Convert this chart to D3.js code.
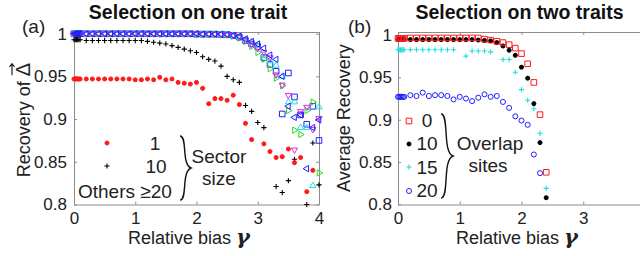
<!DOCTYPE html>
<html>
<head>
<meta charset="utf-8">
<script src="https://cdn.jsdelivr.net/npm/d3@7"></script>
<style>
  body { margin: 0; background: #fff; }
  svg { display: block; font-family: "Liberation Sans", Arial, sans-serif; }
</style>
</head>
<body>
<div id="chart"></div>
<script>
// relative bias: a dense cluster near 0, then steps of 0.1
const gammaA = [0, 0.02, 0.04, 0.06, 0.08, 0.1,
  0.2, 0.3, 0.4, 0.5, 0.6, 0.7, 0.8, 0.9, 1.0,
  1.1, 1.2, 1.3, 1.4, 1.5, 1.6, 1.7, 1.8, 1.9, 2.0,
  2.1, 2.2, 2.3, 2.4, 2.5, 2.6, 2.7, 2.8, 2.9, 3.0,
  3.1, 3.2, 3.3, 3.4, 3.5, 3.6, 3.7, 3.8, 3.9, 4.0]
const gammaB = gammaA.slice(0, 29)   // panel (b) stops at 2.4

// (a) selection on one trait, by sector size
const sector1 = [0.947, 0.947, 0.947, 0.947, 0.947, 0.947,
  0.947, 0.947, 0.947, 0.947, 0.947, 0.947, 0.947, 0.947, 0.946,
  0.946, 0.947, 0.946, 0.949, 0.946, 0.947, 0.943, 0.942, 0.941, 0.943,
  0.936, 0.918, 0.924, 0.924, 0.922, 0.928, 0.917, 0.895, 0.876, null,
  0.871, 0.862, 0.855, 0.856, 0.865, 0.849, 0.855, 0.815, 0.840, null]
const sector10 = [0.993, 0.993, 0.993, 0.993, 0.993, 0.993,
  0.992, 0.992, 0.992, 0.992, 0.992, 0.992, 0.992, 0.992, 0.992,
  0.992, 0.991, 0.990, 0.989, 0.988, 0.986, 0.984, 0.982, 0.980, 0.978,
  0.973, 0.970, 0.968, 0.962, 0.950, 0.946, 0.943, 0.916, 0.909, 0.896,
  0.890, null, 0.821, 0.814, 0.828, 0.853, null, 0.800, 0.872, 0.823]
const otherSquare = [1, 1, 1, 1, 1, 1,
  1, 1, 1, 1, 1, 1, 1, 1, 1,
  1, 1, 1, 1, 1, 1, 1, 1, 1, 0.9995,
  0.9995, 0.9995, 0.9995, 0.999, 0.999, 0.998, 0.996, 0.992, 0.988, 0.985,
  0.972, 0.964, 0.956, 0.906, 0.954, 0.926, 0.905, 0.894, 0.915, 0.875]
const otherLeft = [1, 1, 1, 1, 1, 1,
  1, 1, 1, 1, 1, 1, 1, 1, 1,
  1, 1, 1, 1, 1, 1, 1, 1, 1, 1,
  0.9995, 0.9995, 0.9995, 0.9995, 0.999, 0.998, 0.997, 0.994, 0.991, 0.988,
  0.983, 0.975, 0.970, 0.950, 0.915, 0.902, 0.905, 0.842, 0.890, 0.899]
const otherDown = [1, 1, 1, 1, 1, 1,
  1, 1, 1, 1, 1, 1, 1, 1, 1,
  1, 1, 1, 1, 1, 1, 1, 1, 1, 1,
  0.9995, 0.9995, 0.9995, 0.999, 0.999, 0.998, 0.996, 0.992, 0.988, 0.983,
  0.978, 0.972, 0.952, 0.940, 0.928, 0.864, 0.909, 0.914, 0.888, 0.901]
const otherRight = [1, 1, 1, 1, 1, 1,
  1, 1, 1, 1, 1, 1, 1, 1, 1,
  1, 1, 1, 1, 1, 1, 1, 1, 1, 0.9995,
  0.9995, 0.9995, 0.999, 0.999, 0.999, 0.997, 0.995, 0.991, 0.985, 0.978,
  0.970, 0.959, 0.948, 0.939, 0.910, 0.887, 0.882, 0.910, 0.920, 0.837]
const otherUp = [1, 1, 1, 1, 1, 1,
  1, 1, 1, 1, 1, 1, 1, 1, 1,
  1, 1, 1, 1, 1, 1, 1, 1, 1, 1,
  0.9995, 0.9995, 0.9995, 0.999, 0.999, 0.998, 0.996, 0.993, 0.990, 0.986,
  0.975, 0.968, 0.963, 0.950, 0.920, 0.920, 0.890, 0.890, 0.822, 0.914]

// (b) selection on two traits, by number of overlap sites
const overlap0 = [0.996, 0.996, 0.996, 0.996, 0.996, 0.996,
  0.9965, 0.9965, 0.9965, 0.9965, 0.9965, 0.9965, 0.9965, 0.9965, 0.9965,
  0.9965, 0.9965, 0.9965, 0.995, 0.994, 0.9925, 0.991, 0.9885, 0.9845, 0.978,
  0.966, 0.944, 0.906, 0.838]
const overlap10 = [0.995, 0.995, 0.995, 0.995, 0.995, 0.995,
  0.9945, 0.9945, 0.9945, 0.9945, 0.9945, 0.9945, 0.9945, 0.9945, 0.9945,
  0.9945, 0.9945, 0.994, 0.9935, 0.993, 0.991, 0.987, 0.982, 0.976, 0.962,
  0.949, 0.919, 0.873, 0.808]
const overlap15 = [0.9825, 0.9825, 0.9825, 0.9825, 0.9825, 0.9825,
  0.9825, 0.9825, 0.9825, 0.9825, 0.9825, 0.9825, 0.9825, 0.9825, null,
  0.975, 0.981, 0.981, 0.981, 0.980, null, 0.971, 0.971, 0.956, 0.9355,
  0.923, 0.913, 0.884, 0.819]
const overlap20 = [0.927, 0.927, 0.927, 0.927, 0.927, 0.927,
  0.929, 0.928, 0.932, 0.928, 0.929, 0.929, 0.928, 0.924, 0.927,
  0.925, 0.922, 0.926, 0.930, 0.927, 0.928, 0.921, 0.914, 0.904, 0.899,
  0.894, 0.859, 0.837, null]

const xTicks = [0, 1, 2, 3, 4]
const yTicks = [0.8, 0.85, 0.9, 0.95, 1]

const W = 640, H = 256
const svg = d3.select("#chart").append("svg")
  .attr("width", W)
  .attr("height", H)

const axisGrey = "#8c8c8c"
const textCol = "#222"

// marker paths, centred on 0,0
function tri(r) { return `M0,${-r}L${r * 0.87},${r * 0.5}L${-r * 0.87},${r * 0.5}Z` }
const markers = {
  dot: {path: d3.symbol(d3.symbolCircle, 13)(), fill: true},
  plus: {path: "M-2.6,0H2.6M0,-2.6V2.6", fill: false},
  square: {path: "M-2.8,-2.8H2.8V2.8H-2.8Z", fill: false},
  circle: {path: d3.symbol(d3.symbolCircle, 20)(), fill: false},
  up: {path: tri(3.6), fill: false, rot: 0},
  down: {path: tri(3.6), fill: false, rot: 180},
  left: {path: tri(3.6), fill: false, rot: -90},
  right: {path: tri(3.6), fill: false, rot: 90}
}

function drawMarker(g, x, y, kind, color) {
  const m = markers[kind]
  g.append("path")
    .attr("d", m.path)
    .attr("transform", `translate(${x},${y})` + (m.rot ? ` rotate(${m.rot})` : ""))
    .attr("fill", m.fill ? color : "none")
    .attr("stroke", color)
    .attr("stroke-width", kind === "plus" ? 1.1 : 1)
}

function drawPanel(p) {
  const x = d3.scaleLinear().domain([0, 4]).range(p.xr)
  const y = d3.scaleLinear().domain(p.yd).range([204.5, 32])
  const g = svg.append("g")

  // box with inward ticks on all four sides
  const styleAxis = a => {
    a.select(".domain").attr("stroke", axisGrey)
    a.selectAll(".tick line").attr("stroke", axisGrey)
    a.selectAll("text").attr("fill", textCol).attr("font-size", 17)
      .attr("font-family", "Liberation Sans, Arial, sans-serif")
  }
  g.append("g").attr("transform", "translate(0,204.5)")
    .call(d3.axisBottom(x).tickValues(xTicks).tickSize(-3).tickPadding(7.5)
      .tickFormat(d => String(d)).tickSizeOuter(0))
    .call(styleAxis)
  g.append("g").attr("transform", "translate(0,32)")
    .call(d3.axisTop(x).tickValues(xTicks).tickSize(-3).tickFormat("").tickSizeOuter(0))
    .call(styleAxis)
  g.append("g").attr("transform", `translate(${p.xr[0]},0)`)
    .call(d3.axisLeft(y).tickValues(yTicks).tickSize(-3).tickPadding(p.ypad)
      .tickFormat(d => String(d)).tickSizeOuter(0))
    .call(styleAxis)
  g.append("g").attr("transform", `translate(${p.xr[1]},0)`)
    .call(d3.axisRight(y).tickValues(yTicks).tickSize(-3).tickFormat("").tickSizeOuter(0))
    .call(styleAxis)

  // data
  p.series.forEach(s => {
    const sg = g.append("g")
    p.gamma.forEach((gv, i) => {
      const v = s.values[i]
      if (v == null) return
      drawMarker(sg, x(gv), y(v), s.marker, s.color)
    })
  })

  g.append("text").attr("x", p.titleX).attr("y", 18.5)
    .attr("text-anchor", "middle").attr("font-weight", "bold")
    .attr("font-size", 19.5).attr("fill", "#111").text(p.title)
  g.append("text").attr("x", p.tagX).attr("y", 33)
    .attr("font-size", 19).attr("fill", textCol).text(p.tag)
  const xl = g.append("text").attr("x", p.xLabelX).attr("y", 244)
    .attr("text-anchor", "middle").attr("font-size", 18).attr("fill", textCol)
  xl.append("tspan").text("Relative bias ")
  xl.append("tspan").attr("font-size", 21).attr("font-style", "italic")
    .attr("font-weight", "bold").attr("font-family", "DejaVu Serif, serif").text("γ")

  const yl = g.append("g").attr("transform", `translate(${p.yLabelX},${p.yLabelY}) rotate(-90)`)
  const yt = yl.append("text").attr("text-anchor", "middle")
    .attr("font-size", 18).attr("fill", textCol)
  yt.append("tspan").text(p.yLabel)
  if (p.vec) {
    const dt = yt.append("tspan").attr("font-size", 20).text("\u0394")
    // arrow over the Delta, in the rotated frame
    const full = yt.node().getComputedTextLength()
    const dw = dt.node().getComputedTextLength()
    const x1 = full / 2 - dw + 1, x2 = full / 2 - 1, ay = -18
    yl.append("path")
      .attr("d", `M${x1},${ay}H${x2}M${x2 - 3},${ay - 2.5}L${x2},${ay}L${x2 - 3},${ay + 2.5}`)
      .attr("fill", "none").attr("stroke", textCol).attr("stroke-width", 1.2)
  }
  return g
}

drawPanel({
  xr: [74, 319], yd: [0.8, 1.002], ypad: 7, gamma: gammaA,
  title: "Selection on one trait", titleX: 188, tag: "(a)", tagX: 22,
  xLabelX: 189, yLabelX: 30, yLabelY: 120, yLabel: "Recovery of ", vec: true,
  series: [
    {values: otherSquare, marker: "square", color: "#1f1fff"},
    {values: otherRight, marker: "right", color: "#22dd22"},
    {values: otherUp, marker: "up", color: "#22dddd"},
    {values: otherDown, marker: "down", color: "#ee22ee"},
    {values: otherLeft, marker: "left", color: "#1f1fff"},
    {values: sector10, marker: "plus", color: "#000"},
    {values: sector1, marker: "dot", color: "#ff1a1a"}
  ]
})

drawPanel({
  xr: [398, 645], yd: [0.8, 1.0035], ypad: 6, gamma: gammaB,
  title: "Selection on two traits", titleX: 519.5, tag: "(b)", tagX: 348,
  xLabelX: 517, yLabelX: 350, yLabelY: 118, yLabel: "Average Recovery",
  series: [
    {values: overlap20, marker: "circle", color: "#1f1fff"},
    {values: overlap15, marker: "plus", color: "#22dddd"},
    {values: overlap10, marker: "dot", color: "#000"},
    {values: overlap0, marker: "square", color: "#ff1a1a"}
  ]
})

// legends
const leg = svg.append("g").attr("font-size", 19).attr("fill", textCol)
function braceRight(x, y0, y1, w) {
  const m = (y0 + y1) / 2
  return `M${x},${y0} C${x + w * 0.7},${y0} ${x + w * 0.1},${m - 4} ${x + w},${m}` +
    ` C${x + w * 0.1},${m + 4} ${x + w * 0.7},${y1} ${x},${y1}`
}

drawMarker(leg, 107, 143, "dot", "#ff1a1a")
drawMarker(leg, 107, 166, "plus", "#000")
leg.append("text").attr("x", 155).attr("y", 150).attr("text-anchor", "middle").text("1")
leg.append("text").attr("x", 156).attr("y", 173).attr("text-anchor", "middle").text("10")
leg.append("text").attr("x", 78).attr("y", 198).text("Others \u226520")
leg.append("path").attr("d", braceRight(180, 136, 200, 11))
  .attr("fill", "none").attr("stroke", "#111").attr("stroke-width", 1.4)
leg.append("text").attr("x", 219).attr("y", 163).attr("text-anchor", "middle").text("Sector")
leg.append("text").attr("x", 219).attr("y", 185).attr("text-anchor", "middle").text("size")

drawMarker(leg, 409, 121, "square", "#ff1a1a")
drawMarker(leg, 409, 144, "dot", "#000")
drawMarker(leg, 409, 167, "plus", "#22dddd")
drawMarker(leg, 409, 191, "circle", "#1f1fff")
const nums = ["0", "10", "15", "20"]
nums.forEach((t, i) => {
  leg.append("text").attr("x", 427).attr("y", 127 + i * 23.3)
    .attr("text-anchor", "middle").text(t)
})
leg.append("path").attr("d", braceRight(441, 114, 198, 12))
  .attr("fill", "none").attr("stroke", "#111").attr("stroke-width", 1.4)
leg.append("text").attr("x", 490).attr("y", 150).attr("text-anchor", "middle").text("Overlap")
leg.append("text").attr("x", 488).attr("y", 172).attr("text-anchor", "middle").text("sites")
</script>
</body>
</html>
